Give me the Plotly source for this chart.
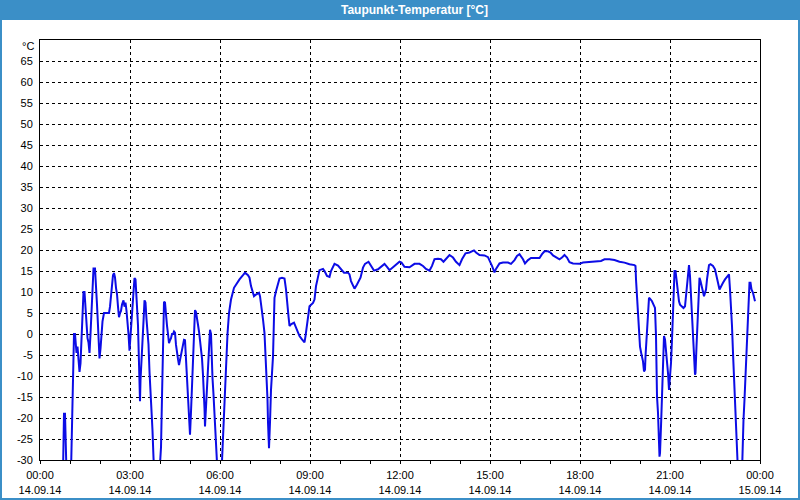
import datetime as dt
import plotly.graph_objects as go

# Time of each reading (minutes after 14.09.14 00:00) and dew point [°C]
minutes = [
    46, 47, 48, 50, 52, 53, 62, 64, 66, 68, 70, 71, 73, 75, 77, 79, 81, 83, 85, 87,
    89, 91, 93, 95, 97, 99, 101, 103, 105, 107, 110, 112, 114, 116, 117, 119, 121, 123, 125, 128,
    134, 138, 140, 142, 144, 146, 148, 150, 152, 154, 156, 158, 160, 162, 164, 167, 169, 171, 173, 175,
    177, 179, 181, 183, 185, 187, 189, 191, 193, 194, 196, 197, 198, 200, 201, 203, 205, 207, 209, 211,
    213, 215, 217, 219, 221, 223, 225, 227, 229, 239, 242, 244, 246, 248, 250, 252, 254, 256, 258, 260,
    262, 264, 266, 268, 270, 272, 274, 276, 278, 280, 282, 284, 286, 288, 290, 292, 294, 296, 298, 300,
    302, 304, 306, 308, 310, 312, 314, 316, 318, 320, 322, 324, 326, 328, 329, 330, 332, 334, 336, 338,
    340, 342, 343, 345, 347, 349, 351, 353, 355, 363, 365, 367, 369,
    370, 372, 375, 378, 382, 388, 392, 399, 406, 410, 416, 419, 422, 428, 432, 438, 440, 442, 446, 449,
    451, 453, 455, 456, 458, 460, 462, 466, 468, 469, 472, 476, 479, 484, 489, 492, 494, 497, 499, 502,
    508, 511, 514, 519, 524, 529, 531, 533, 536, 539, 546, 549, 552, 556, 559, 566, 569, 574, 579, 582,
    589, 596, 602, 608, 616, 619, 622, 629, 634, 641, 646, 650, 657, 662, 668, 676, 682, 689, 694, 699,
    706, 712, 719, 723, 729, 739, 749,
    759, 766, 772, 779, 784, 789, 796, 802, 807, 812, 819, 826, 832, 839, 844, 851, 859, 868, 872, 879,
    889, 896, 900, 904, 909, 912, 919, 926, 936, 942, 949, 954, 959, 966, 970, 976, 982, 999, 1004, 1009,
    1016, 1021, 1026, 1032, 1039, 1044, 1049, 1054, 1059, 1066, 1079, 1086, 1102, 1122, 1129,
    1139, 1149, 1159, 1169, 1179, 1189, 1191, 1192, 1194, 1196, 1198, 1200, 1203, 1206, 1208, 1210, 1211, 1213, 1215, 1217,
    1218, 1220, 1224, 1227, 1230, 1232, 1233, 1234, 1236, 1238, 1239, 1240, 1242, 1244, 1246, 1247, 1248, 1250, 1252, 1254,
    1256, 1258, 1260, 1262, 1264, 1265, 1267, 1269, 1271, 1273, 1275, 1278, 1280, 1284, 1287, 1290, 1292, 1294, 1296, 1298,
    1300, 1302, 1304, 1306, 1308, 1310, 1311, 1313, 1315, 1317, 1319, 1321, 1323, 1326, 1328, 1330, 1332, 1334, 1336, 1338,
    1341, 1346, 1350, 1352, 1356, 1359, 1362, 1366, 1370, 1374, 1378, 1380, 1382, 1384, 1386, 1388, 1390, 1392, 1394, 1396,
    1404, 1405, 1407, 1409, 1411, 1413, 1415, 1417, 1419, 1421, 1423, 1426, 1428, 1430,
]

dewpoint = [
    -33, -25, -19, -19, -25, -33, -33, -19, -9.4, 0, 0, -2, -4.5, -3, -7, -9, -7, 0, 5, 10,
    10, 6, 2, -1, -2, -4.5, 0, 6, 11, 15.6, 15.6, 12, 7, 2, -1.5, -5.8, -3.5, 0.5, 3, 5,
    5, 5, 6.5, 9.5, 12, 14, 14.5, 13.5, 11, 9.5, 6.5, 4, 5, 5.5, 7, 8, 6.5, 7.5, 5.5, 3,
    0, -4, 0.5, 3, 6.5, 10, 13.3, 13, 10, 6.5, 2, -4, -10.5, -16, -11, -5, -1, 3, 8, 7.5,
    3.5, 0, -2.5, -9, -13, -16, -23, -29.5, -33, -33, -27, -15, -3.5, 7.7, 7.5, 4, 2, 0, -2.2, -1.5,
    -1, 0, 0, 0.6, 0.3, -2.6, -5, -6, -7.4, -6, -5, -4, -2.6, -1.4, -1.5, -5, -10.5, -15, -19.3, -24,
    -18.5, -13, -6, 1.3, 5.7, 5.2, 4, 2.2, 0.6, -1.4, -3.4, -5.8, -9.8, -13.7, -17.7, -22, -17.7, -13.7, -8.2, -3.4,
    1, 0, -5, -10.5, -14.4, -20, -24, -27, -33, -33, -27, -20, -15,
    -12, -5, 0, 5, 8.2, 11, 11.8, 13, 14, 14.6, 14, 13.4, 11.4, 9, 9.4, 9.8, 9, 6.6, 3.5, 0.2,
    -4.5, -10, -15.6, -21, -27.2, -21, -13.3, -5.4, 1, 8.6, 10.2, 11.8, 13.2, 13.4, 13.2, 10.6, 7.4, 4.2, 1.9, 2.3,
    2.7, 1.9, 0.7, -0.5, -1.3, -2, -0.5, 1.5, 4.2, 6.6, 7.4, 8.2, 11.4, 13.8, 15.2, 15.5, 15, 13.8, 13.6, 15,
    16.7, 16.3, 15.4, 14.6, 14.6, 14.2, 12.6, 10.8, 11.8, 13.4, 15.8, 16.7, 17.2, 16.2, 15.1, 15.4, 16, 16.7, 16, 15.2,
    15.9, 16.6, 17.2, 17, 16, 15.9, 16.7,
    16.7, 16.2, 15.5, 15.1, 16.2, 17.8, 17.9, 17.8, 17.2, 17.9, 18.8, 18.2, 17.2, 16.4, 17.8, 19.2, 19.4, 19.9, 19.4, 18.8,
    18.7, 18.3, 17.4, 16.2, 14.7, 15.5, 16.8, 17, 17, 16.7, 17.6, 18.6, 19, 17.8, 16.8, 17.6, 18.1, 18.1, 19, 19.7,
    19.7, 19.4, 18.7, 18.2, 17.8, 18.2, 18.8, 18.2, 17.1, 16.8, 16.7, 17, 17.2, 17.4, 17.8,
    17.8, 17.6, 17.2, 17, 16.6, 16.4, 16.2, 13, 9, 5, 1, -3, -4.9, -6.5, -8.9, -8.5, -5.3, -1.3, 1.9, 5.4,
    8.6, 8.4, 7.8, 7, 6.2, -0.5, -10, -14.8, -18.8, -23.6, -29.2, -28.4, -22, -15.6, -10, -5.3, -0.5, -1.3, -3.7, -6.9,
    -9.3, -13.3, -10.9, -6.9, -1.3, 3.5, 8.2, 15, 15, 13, 10.6, 7.8, 7, 6.6, 6.2, 6.6, 9, 12.2, 14.2, 16.4,
    13.8, 9.8, 4.2, -0.5, -4.9, -9.7, -9.3, -2.9, 4.2, 8.6, 13.4, 12.6, 11.4, 10.2, 9, 9.8, 10.6, 13, 14.6, 16.4,
    16.6, 16.2, 15.4, 14, 12.2, 10.6, 11.4, 12.2, 13, 13.6, 14.2, 10.6, 7.4, 1.9, -4.5, -10.9, -17.2, -22.8, -27.6, -33,
    -33, -25.2, -20.4, -15.6, -10, -4.5, 1, 6.6, 12.2, 12.2, 10.6, 9.8, 8.6, 7.8,
]

y_ticks = list(range(-30, 70, 5))
title_text = "Taupunkt-Temperatur [°C]"
unit_text = "°C"

base = dt.datetime(2014, 9, 14)
times = [base + dt.timedelta(minutes=m) for m in minutes]

BLUE = "#3b8fc7"
FONT = "Liberation Sans"

fig = go.Figure()
fig.add_trace(go.Scatter(
    x=times, y=dewpoint, mode="lines",
    line=dict(color="#0c0ce6", width=2),
    hoverinfo="x+y", showlegend=False,
))

W, H = 800, 500
ml, mr, mt, mb = 40, 40, 40, 40
pw, ph = W - ml - mr, H - mt - mb

def px_x(p):
    return (p - ml) / pw

def px_y(p):
    return (H - mb - p) / ph

fig.update_layout(
    width=W, height=H, autosize=False,
    margin=dict(l=ml, r=mr, t=mt, b=mb, pad=0, autoexpand=False),
    paper_bgcolor="white", plot_bgcolor="white",
    font=dict(family=FONT, size=11, color="black"),
    showlegend=False,
    xaxis=dict(
        type="date", automargin=False,
        range=[base, base + dt.timedelta(days=1)],
        tickmode="linear", tick0=base, dtick=3 * 3600 * 1000,
        tickformat="%H:%M<br>%d.%m.%y",
        ticks="outside", ticklen=3, tickcolor="black", tickwidth=1,
        ticklabelstandoff=2,
        minor=dict(tickmode="linear", tick0=base, dtick=3600 * 1000,
                   ticks="outside", ticklen=3, tickcolor="black", showgrid=False),
        showgrid=True, gridcolor="black", gridwidth=1, griddash="3px,3px",
        showline=True, linecolor="black", linewidth=1, mirror=True,
        zeroline=False, fixedrange=True,
        tickfont=dict(family=FONT, size=11, color="black"),
    ),
    yaxis=dict(
        automargin=False,
        range=[-30, 70],
        tickmode="array", tickvals=y_ticks, ticktext=[str(v) for v in y_ticks],
        ticks="", ticklabelstandoff=4,
        showgrid=True, gridcolor="black", gridwidth=1, griddash="3px,3px",
        showline=True, linecolor="black", linewidth=1, mirror=True,
        zeroline=False, fixedrange=True,
        tickfont=dict(family=FONT, size=11, color="black"),
    ),
    shapes=[
        dict(type="rect", xref="paper", yref="paper",
             x0=px_x(0), x1=px_x(W), y0=px_y(20), y1=px_y(0),
             fillcolor=BLUE, line=dict(width=0), layer="above"),
        dict(type="rect", xref="paper", yref="paper",
             x0=px_x(1), x1=px_x(W - 1), y0=px_y(H - 1), y1=px_y(1),
             fillcolor="rgba(0,0,0,0)", line=dict(color=BLUE, width=2), layer="above"),
    ],
    annotations=[
        dict(text="<b>" + title_text + "</b>", xref="paper", yref="paper",
             x=px_x(414), y=px_y(10), xanchor="center", yanchor="middle",
             showarrow=False, font=dict(family=FONT, size=12, color="white")),
        dict(text=unit_text, xref="paper", yref="paper",
             x=px_x(36), y=px_y(46), xanchor="right", yanchor="middle",
             showarrow=False, font=dict(family=FONT, size=11, color="black")),
    ],
)

post = (
    "var de=document.documentElement, b=document.body;"
    "[de,b].forEach(function(e){e.style.margin='0';e.style.padding='0';"
    "e.style.overflow='hidden';e.style.height='500px';e.style.width='800px';});"
    "var g=document.getElementById('{plot_id}');"
    "g.style.display='block';"
    "if(g.parentElement){g.parentElement.style.height='500px';"
    "g.parentElement.style.overflow='hidden';g.parentElement.style.lineHeight='0';}"
)

fig.write_html(
    "out.html",
    config={"displayModeBar": False, "responsive": False},
    post_script=post,
)
